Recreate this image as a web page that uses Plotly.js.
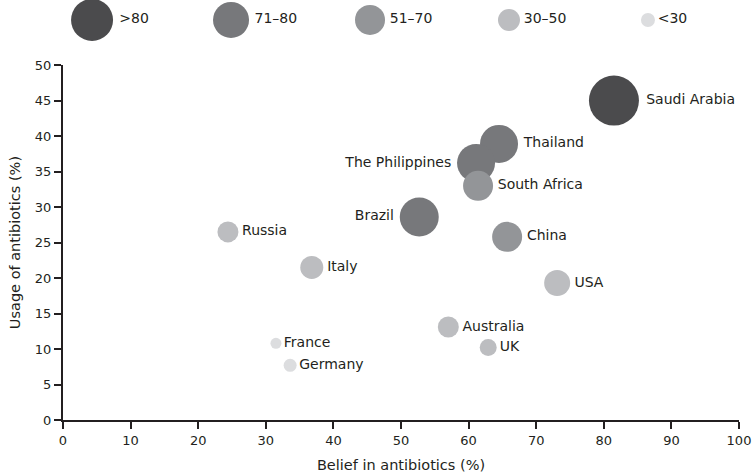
<!DOCTYPE html>
<html>
<head>
<meta charset="utf-8">
<script src="https://cdn.plot.ly/plotly-3.0.1.min.js"></script>
<style>
  html, body { margin: 0; padding: 0; background: #fff; }
  #chart { width: 753px; height: 474px; }
</style>
</head>
<body>
<div id="chart"></div>
<script>
// data
let countries = ["Saudi Arabia", "Thailand", "The Philippines", "South Africa", "Brazil", "China",
  "Russia", "Italy", "USA", "Australia", "UK", "France", "Germany"];
let belief = [81.5, 64.5, 61.1, 61.4, 52.7, 65.7, 24.4, 36.8, 73.1, 57.0, 62.9, 31.5, 33.6];
let usage = [45.0, 38.9, 36.2, 33.0, 28.6, 25.8, 26.5, 21.5, 19.3, 13.1, 10.2, 10.8, 7.7];
let bubble_size = [50, 38, 38, 30, 39, 30, 21, 23, 26, 21, 17, 11, 13];
let group = [">80", "71–80", "71–80", "51–70", "71–80", "51–70",
  "30–50", "30–50", "30–50", "30–50", "30–50", "<30", "<30"];
let label_side = ["right", "right", "left", "right", "left", "right",
  "right", "right", "right", "right", "right", "right", "right"];

// legend bands
let legend_labels = [">80", "71–80", "51–70", "30–50", "<30"];
let legend_sizes = [42, 36, 30, 22, 14];
let legend_colors = ["#4b4b4d", "#77787b", "#939598", "#bcbdc0", "#dcdddf"];

let ink = "#231f20";
let font_family = "'DejaVu Sans', 'Noto Sans', sans-serif";

let color_of = {};
legend_labels.forEach(function (lab, i) {
  color_of[lab] = legend_colors[i];
});

let bubbles = {
  x: belief,
  y: usage,
  text: countries,
  mode: "markers+text",
  type: "scatter",
  textposition: label_side.map(function (s) {
    return "middle " + s;
  }),
  textfont: { family: font_family, size: 14, color: ink },
  marker: {
    size: bubble_size,
    color: group.map(function (g) {
      return color_of[g];
    }),
    opacity: 1,
    line: { width: 0 },
  },
  cliponaxis: false,
  hoverinfo: "text",
  showlegend: false,
};

let key = {
  x: legend_labels,
  y: legend_labels.map(function () {
    return 0;
  }),
  text: legend_labels,
  mode: "markers+text",
  type: "scatter",
  xaxis: "x2",
  yaxis: "y2",
  textposition: "middle right",
  textfont: { family: font_family, size: 14, color: ink },
  marker: { size: legend_sizes, color: legend_colors, opacity: 1, line: { width: 0 } },
  cliponaxis: false,
  hoverinfo: "skip",
  showlegend: false,
};

let axis_common = {
  showgrid: false,
  zeroline: false,
  showline: true,
  linecolor: ink,
  linewidth: 2,
  ticks: "outside",
  ticklen: 7,
  tickwidth: 2,
  tickcolor: ink,
  tickfont: { family: font_family, size: 13, color: ink },
};

let layout = {
  width: 753,
  height: 474,
  margin: { l: 63, r: 14, t: 0, b: 54 },
  paper_bgcolor: "#fff",
  plot_bgcolor: "#fff",
  font: { family: font_family, color: ink },
  xaxis: Object.assign({}, axis_common, {
    range: [0, 100],
    dtick: 10,
    domain: [0, 1],
    title: { text: "Belief in antibiotics (%)", font: { size: 14.5, color: ink }, standoff: 13 },
  }),
  yaxis: Object.assign({}, axis_common, {
    range: [0, 50],
    dtick: 5,
    domain: [0, 0.845],
    title: { text: "Usage of antibiotics (%)", font: { size: 14.5, color: ink }, standoff: 11 },
  }),
  xaxis2: {
    domain: [0, 1],
    anchor: "y2",
    type: "category",
    range: [-0.209, 4.655],
    visible: false,
    fixedrange: true,
  },
  yaxis2: {
    domain: [0.905, 1],
    anchor: "x2",
    range: [-1, 1],
    visible: false,
    fixedrange: true,
  },
  showlegend: false,
};

Plotly.newPlot("chart", [bubbles, key], layout, { displayModeBar: false, staticPlot: true });
</script>
</body>
</html>
